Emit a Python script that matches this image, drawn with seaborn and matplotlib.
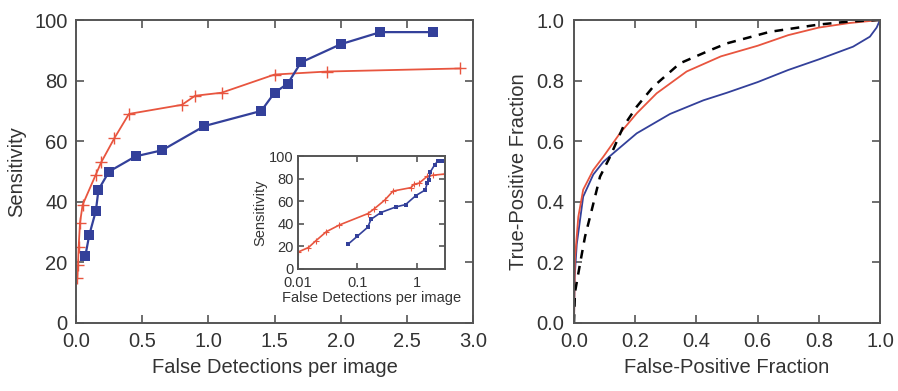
import matplotlib
matplotlib.use("Agg")
import matplotlib.pyplot as plt
import pandas as pd
import seaborn as sns

# Left panel: FROC data (false detections per image vs sensitivity)
blue_fd = [0.07, 0.10, 0.15, 0.17, 0.25, 0.45, 0.65, 0.97, 1.40, 1.50, 1.60, 1.70, 2.00, 2.30, 2.70]
blue_sens = [22, 29, 37, 44, 50, 55, 57, 65, 70, 76, 79, 86, 92, 96, 96]

red_fd = [0.01, 0.015, 0.02, 0.03, 0.05, 0.15, 0.19, 0.29, 0.40, 0.80, 0.90, 1.10, 1.50, 1.90, 2.90]
red_sens = [15, 19, 25, 33, 39, 49, 53, 61, 69, 72, 75, 76, 82, 83, 84]

# Right panel: ROC curves
red_fpf = [0.0, 0.003, 0.014, 0.03, 0.063, 0.096, 0.15, 0.205, 0.27, 0.368, 0.48, 0.6, 0.7, 0.8, 0.9, 1.0]
red_tpf = [0.0, 0.21, 0.35, 0.44, 0.505, 0.549, 0.626, 0.692, 0.758, 0.83, 0.88, 0.915, 0.95, 0.975, 0.99, 1.0]

blue_fpf = [0.0, 0.002, 0.009, 0.03, 0.063, 0.096, 0.128, 0.205, 0.314, 0.423, 0.5, 0.6, 0.7, 0.8, 0.912, 0.967, 0.989, 1.0]
blue_tpf = [0.0, 0.15, 0.26, 0.417, 0.49, 0.532, 0.56, 0.626, 0.69, 0.735, 0.76, 0.795, 0.835, 0.87, 0.912, 0.945, 0.975, 1.0]

dash_fpf = [0.0, 0.003, 0.02, 0.036, 0.058, 0.085, 0.118, 0.161, 0.205, 0.259, 0.346, 0.444, 0.5, 0.64, 0.8, 0.9, 1.0]
dash_tpf = [0.0, 0.1, 0.197, 0.285, 0.373, 0.483, 0.549, 0.648, 0.714, 0.78, 0.857, 0.9, 0.923, 0.961, 0.985, 0.995, 1.0]

BLUE = "#33409a"
RED = "#e8553f"
FRAME = "#555555"
TEXT = "#333333"

sns.set_style("ticks")
plt.rcParams["font.family"] = ["Liberation Sans", "DejaVu Sans"]


def style_axes(ax, tick_size, length, xpad, ypad):
    for s in ax.spines.values():
        s.set_color(FRAME)
        s.set_linewidth(1.4)
    ax.tick_params(which="major", direction="in", top=True, right=True,
                   length=length, width=1.2, color=FRAME,
                   labelsize=tick_size, labelcolor=TEXT)
    ax.tick_params(axis="x", pad=xpad)
    ax.tick_params(axis="y", pad=ypad)
    ax.tick_params(which="minor", length=0)


fig = plt.figure(figsize=(8.98, 3.91), dpi=100)
ax1 = fig.add_axes([76 / 898, 1 - 323 / 391, 397 / 898, 303 / 391])
ax2 = fig.add_axes([574 / 898, 1 - 323 / 391, 306 / 898, 303 / 391])
axin = fig.add_axes([298 / 898, 1 - 269 / 391, 147 / 898, 113 / 391])

blue_df = pd.DataFrame({"fd": blue_fd, "sens": blue_sens})
red_df = pd.DataFrame({"fd": red_fd, "sens": red_sens})

# main FROC
sns.lineplot(data=red_df, x="fd", y="sens", ax=ax1, color=RED, lw=1.3,
             marker="+", markersize=9, markeredgewidth=1.0,
             markeredgecolor=RED, sort=False)
sns.lineplot(data=blue_df, x="fd", y="sens", ax=ax1, color=BLUE, lw=1.6,
             marker="s", markersize=6.5, markeredgewidth=0, sort=False)
ax1.set_xlim(0, 3.0)
ax1.set_ylim(0, 100)
ax1.set_xticks([0, 0.5, 1.0, 1.5, 2.0, 2.5, 3.0])
ax1.set_xticklabels([f"{v:.1f}" for v in [0, 0.5, 1.0, 1.5, 2.0, 2.5, 3.0]])
ax1.set_yticks(range(0, 101, 20))
ax1.set_xlabel("False Detections per image", fontsize=14.5, color=TEXT, labelpad=5)
ax1.set_ylabel("Sensitivity", fontsize=14.5, color=TEXT, labelpad=6)
style_axes(ax1, 14.5, 6, 6.5, 6)

# inset with log x
axin.set_xscale("log")
sns.lineplot(data=red_df, x="fd", y="sens", ax=axin, color=RED, lw=1.2,
             marker="+", markersize=5, markeredgewidth=0.8,
             markeredgecolor=RED, sort=False)
sns.lineplot(data=blue_df, x="fd", y="sens", ax=axin, color=BLUE, lw=1.2,
             marker="s", markersize=3.5, markeredgewidth=0, sort=False)
axin.set_xlim(0.01, 3.0)
axin.set_ylim(0, 100)
axin.set_xticks([0.01, 0.1, 1])
axin.set_xticklabels(["0.01", "0.1", "1"])
axin.set_yticks(range(0, 101, 20))
axin.set_xlabel("False Detections per image", fontsize=10.5, color=TEXT, labelpad=1)
axin.set_ylabel("Sensitivity", fontsize=10.5, color=TEXT, labelpad=1)
style_axes(axin, 10.5, 4, 5, 3)
axin.set_facecolor("white")

# ROC panel
sns.lineplot(x=blue_fpf, y=blue_tpf, ax=ax2, color=BLUE, lw=1.3, sort=False)
sns.lineplot(x=red_fpf, y=red_tpf, ax=ax2, color=RED, lw=1.3, sort=False)
sns.lineplot(x=dash_fpf, y=dash_tpf, ax=ax2, color="black", lw=1.8,
             linestyle=(0, (3.5, 3)), sort=False)
ax2.set_xlim(0, 1.0)
ax2.set_ylim(0, 1.0)
ticks = [0, 0.2, 0.4, 0.6, 0.8, 1.0]
ax2.set_xticks(ticks)
ax2.set_xticklabels([f"{v:.1f}" for v in ticks])
ax2.set_yticks(ticks)
ax2.set_yticklabels([f"{v:.1f}" for v in ticks])
ax2.set_xlabel("False-Positive Fraction", fontsize=14.5, color=TEXT, labelpad=5)
ax2.set_ylabel("True-Positive Fraction", fontsize=14.5, color=TEXT, labelpad=6)
style_axes(ax2, 14.5, 6, 6.5, 7)

fig.savefig("out.png", dpi=100)
